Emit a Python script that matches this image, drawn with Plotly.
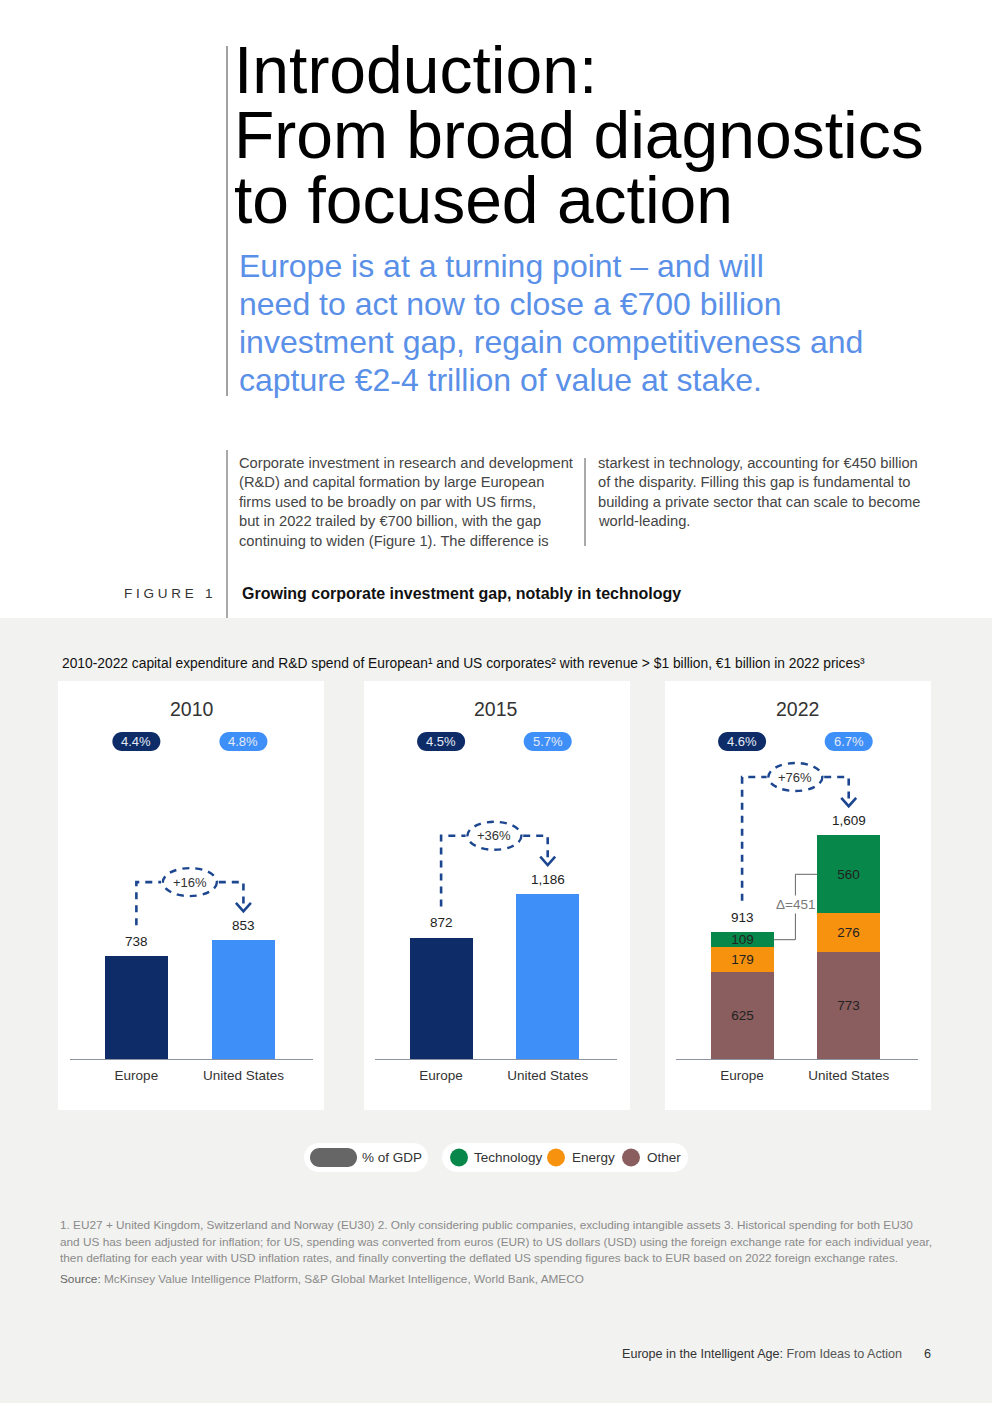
import plotly.graph_objects as go

# ---------------- data ----------------
years = ["2010", "2015", "2022"]
regions = ["Europe", "United States"]
europe_total = [738, 872, 913]
us_total = [853, 1186, 1609]
europe_gdp = ["4.4%", "4.5%", "4.6%"]
us_gdp = ["4.8%", "5.7%", "6.7%"]
seg_names = ["Other", "Energy", "Technology"]
seg_other_2022 = [625, 773]
seg_energy_2022 = [179, 276]
seg_tech_2022 = [109, 560]

title_lines = ["Introduction:", "From broad diagnostics", "to focused action"]
subtitle_lines = [
    "Europe is at a turning point \u2013 and will",
    "need to act now to close a \u20ac700 billion",
    "investment gap, regain competitiveness and",
    "capture \u20ac2-4 trillion of value at stake.",
]
body_col1 = [
    "Corporate investment in research and development",
    "(R&D) and capital formation by large European",
    "firms used to be broadly on par with US firms,",
    "but in 2022 trailed by \u20ac700 billion, with the gap",
    "continuing to widen (Figure 1). The difference is",
]
body_col2 = [
    "starkest in technology, accounting for \u20ac450 billion",
    "of the disparity. Filling this gap is fundamental to",
    "building a private sector that can scale to become",
    "world-leading.",
]
fig_label = "FIGURE 1"
fig_title = "Growing corporate investment gap, notably in technology"
chart_subtitle = ("2010-2022 capital expenditure and R&D spend of European\u00b9 and US corporates\u00b2 "
                  "with revenue > $1 billion, \u20ac1 billion in 2022 prices\u00b3")
footnotes = [
    "1. EU27 + United Kingdom, Switzerland and Norway (EU30) 2. Only considering public companies, excluding intangible assets 3. Historical spending for both EU30",
    "and US has been adjusted for inflation; for US, spending was converted from euros (EUR) to US dollars (USD) using the foreign exchange rate for each individual year,",
    "then deflating for each year with USD inflation rates, and finally converting the deflated US spending figures back to EUR based on 2022 foreign exchange rates.",
]
source_text = "McKinsey Value Intelligence Platform, S&P Global Market Intelligence, World Bank, AMECO"
footer_a = "Europe in the Intelligent Age:"
footer_b = "From Ideas to Action"
page_no = "6"

# ---------------- style ----------------
W, H = 992, 1403
FONT = "Liberation Sans, Arial, Helvetica, sans-serif"
NAVY = "#0d2c68"
BLUE = "#3f8ff8"
SEG_COLORS = {"Other": "#8a5d5e", "Energy": "#f7920f", "Technology": "#08874a"}
CONN = "#1d4690"
GREY_BG = "#f2f2f0"
DASH = "7px,6px"


def px(x):
    return x / W


def py(y):
    return 1 - y / H


def pill_path(w, h):
    r = h / 2.0
    hw = w / 2.0
    k = 0.5523 * r
    a = hw - r
    return (f"M {-a},{-r} L {a},{-r} C {a + k},{-r} {hw},{-k} {hw},0 "
            f"C {hw},{k} {a + k},{r} {a},{r} L {-a},{r} "
            f"C {-a - k},{r} {-hw},{k} {-hw},0 C {-hw},{-k} {-a - k},{-r} {-a},{-r} Z")


fig = go.Figure()
shapes = []
ann = []


def text(x, y, s, size, color="#222", anchor="left", family=FONT, **kw):
    ann.append(dict(x=px(x), y=py(y), xref="paper", yref="paper", text=s, showarrow=False,
                    xanchor=anchor, yanchor="middle", font=dict(size=size, color=color, family=family), **kw))


# page background pieces
shapes.append(dict(type="rect", xref="paper", yref="paper", x0=0, x1=1, y0=0, y1=py(618),
                   fillcolor=GREY_BG, line=dict(width=0), layer="below"))
panel_px = [(58, 324), (364, 630), (665, 931)]
for (a, b) in panel_px:
    shapes.append(dict(type="rect", xref="paper", yref="paper", x0=px(a), x1=px(b), y0=py(1110), y1=py(681),
                       fillcolor="white", line=dict(width=0), layer="below"))

# vertical rules
shapes.append(dict(type="line", xref="paper", yref="paper", x0=px(227), x1=px(227), y0=py(46), y1=py(396),
                   line=dict(color="#444", width=1)))
shapes.append(dict(type="line", xref="paper", yref="paper", x0=px(227), x1=px(227), y0=py(450), y1=py(618),
                   line=dict(color="#555", width=1)))
shapes.append(dict(type="line", xref="paper", yref="paper", x0=px(585), x1=px(585), y0=py(458), y1=py(546),
                   line=dict(color="#555", width=1)))

# title + subtitle
for i, s in enumerate(title_lines):
    base = 93 + 65 * i
    text(232, base - 0.35 * 66, s, 66, "#000")
for i, s in enumerate(subtitle_lines):
    base = 277 + 38 * i
    text(237, base - 0.35 * 32, s, 32, "#5a90e8")
for i, s in enumerate(body_col1):
    text(237, 463 + 19.4 * i, s, 14.7, "#454545")
for i, s in enumerate(body_col2):
    text(596, 463 + 19.4 * i, s, 14.7, "#454545")
text(215, 593, "\u00a0".join(list(fig_label.replace(" ", ""))[:-1]) + "\u00a0\u00a0\u00a0" + fig_label[-1],
     13.5, "#333", anchor="right")
text(240, 593, "<b>" + fig_title + "</b>", 16, "#111")
text(60, 663, chart_subtitle, 13.8, "#111")

# ---------------- axes ----------------
YMAX = 2720
ydom = [py(1059), py(681)]
xdoms = [(70, 313), (375, 617), (676, 918)]
XR = [-0.62, 1.65]
BW = 0.59
for i, (a, b) in enumerate(xdoms):
    sfx = "" if i == 0 else str(i + 1)
    fig.layout["xaxis" + sfx] = dict(domain=[px(a), px(b)], range=XR, showgrid=False, zeroline=False,
                                     showline=True, linecolor="#8d93a3", linewidth=1,
                                     tickvals=[0, 1], ticktext=regions, ticks="", ticklabelstandoff=4,
                                     tickfont=dict(size=13.5, color="#333", family=FONT),
                                     anchor="y" + sfx, fixedrange=True)
    fig.layout["yaxis" + sfx] = dict(domain=ydom, range=[0, YMAX], visible=False, anchor="x" + sfx,
                                     fixedrange=True)

# bars 2010, 2015
for i in range(2):
    sfx = "" if i == 0 else str(i + 1)
    fig.add_trace(go.Bar(x=[0, 1], y=[europe_total[i], us_total[i]], width=BW,
                         marker=dict(color=[NAVY, BLUE], line=dict(width=0)),
                         xaxis="x" + sfx, yaxis="y" + sfx, showlegend=False, hoverinfo="skip"))

# stacked bars 2022
for name, vals in zip(seg_names, [seg_other_2022, seg_energy_2022, seg_tech_2022]):
    fig.add_trace(go.Bar(x=[0, 1], y=vals, width=BW, name=name,
                         marker=dict(color=SEG_COLORS[name], line=dict(width=0)),
                         text=[f"{v:,}" for v in vals], textposition="inside", insidetextanchor="middle",
                         textangle=0, constraintext="none",
                         textfont=dict(size=13.5, color="#222", family=FONT),
                         xaxis="x3", yaxis="y3", showlegend=False, hoverinfo="skip"))

LEVEL_OFF = 420
START_OFF = 225
TIP_OFF = 210
ARROW_H = 60
ELL_HALF = 0.27
for i in range(3):
    sfx = "" if i == 0 else str(i + 1)
    xr, yr = "x" + sfx, "y" + sfx
    eu, us = europe_total[i], us_total[i]
    level = us + LEVEL_OFF
    tip = us + TIP_OFF
    # year title
    ann.append(dict(x=0.5, y=py(709), xref=xr + " domain", yref="paper", text=years[i], showarrow=False,
                    xanchor="center", yanchor="middle", font=dict(size=19.5, color="#333", family=FONT)))
    # GDP pills
    for cat, lab, col in [(0, europe_gdp[i], NAVY), (1, us_gdp[i], BLUE)]:
        shapes.append(dict(type="path", xref=xr, yref="paper", xsizemode="pixel", ysizemode="pixel",
                           xanchor=cat, yanchor=py(741.5), path=pill_path(48, 19),
                           fillcolor=col, line=dict(width=0)))
        ann.append(dict(x=cat, y=py(741.5), xref=xr, yref="paper", text=lab, showarrow=False,
                        xanchor="center", yanchor="middle", font=dict(size=13, color="#e4eaf6", family=FONT)))
    # value labels
    for cat, v in [(0, eu), (1, us)]:
        ann.append(dict(x=cat, y=v, xref=xr, yref=yr, text=f"{v:,}", showarrow=False, yshift=15,
                        xanchor="center", yanchor="middle", font=dict(size=13.5, color="#222", family=FONT)))
    # dashed connector
    fig.add_trace(go.Scatter(x=[0, 0, 0.5 - ELL_HALF, None, 0.5 + ELL_HALF, 1, 1],
                             y=[eu + START_OFF, level, level, None, level, level, tip + 25],
                             mode="lines", line=dict(color=CONN, width=2.6, dash=DASH),
                             xaxis=xr, yaxis=yr, showlegend=False, hoverinfo="skip", connectgaps=False))
    fig.add_trace(go.Scatter(x=[0.93, 1, 1.07], y=[tip + ARROW_H, tip, tip + ARROW_H], mode="lines",
                             line=dict(color=CONN, width=2.6), xaxis=xr, yaxis=yr,
                             showlegend=False, hoverinfo="skip"))
    shapes.append(dict(type="circle", xref=xr, yref=yr, xsizemode="pixel", ysizemode="pixel",
                       xanchor=0.5, yanchor=level, x0=-27, x1=27, y0=-14, y1=14,
                       line=dict(color=CONN, width=2.4, dash=DASH), fillcolor="rgba(0,0,0,0)"))
    growth = round((us / eu - 1) * 100)
    ann.append(dict(x=0.5, y=level, xref=xr, yref=yr, text=f"+{growth}%", showarrow=False,
                    xanchor="center", yanchor="middle", font=dict(size=13, color="#333", family=FONT)))

# delta bracket 2022 (technology)
eu_tech_mid = seg_other_2022[0] + seg_energy_2022[0] + seg_tech_2022[0] / 2
us_tech_mid = seg_other_2022[1] + seg_energy_2022[1] + seg_tech_2022[1] / 2
fig.add_trace(go.Scatter(x=[BW / 2, 0.5, 0.5, 1 - BW / 2], y=[eu_tech_mid, eu_tech_mid, us_tech_mid, us_tech_mid],
                         mode="lines", line=dict(color="#666", width=1), xaxis="x3", yaxis="y3",
                         showlegend=False, hoverinfo="skip"))
delta = seg_tech_2022[1] - seg_tech_2022[0]
ann.append(dict(x=0.5, y=(eu_tech_mid + us_tech_mid) / 2 + 20, xref="x3", yref="y3", text=f"\u0394={delta}",
                showarrow=False, xanchor="center", yanchor="middle", bgcolor="white", borderpad=1,
                font=dict(size=13.5, color="#7a7a7a", family=FONT)))

# ---------------- legend ----------------
for (a, b) in [(304, 428), (442, 688)]:
    shapes.append(dict(type="path", xref="paper", yref="paper", xsizemode="pixel", ysizemode="pixel",
                       xanchor=px((a + b) / 2), yanchor=py(1157.5), path=pill_path(b - a, 29),
                       fillcolor="white", line=dict(width=0)))
shapes.append(dict(type="path", xref="paper", yref="paper", xsizemode="pixel", ysizemode="pixel",
                   xanchor=px(333.5), yanchor=py(1157.5), path=pill_path(47, 19),
                   fillcolor="#666", line=dict(width=0)))
text(360, 1157.5, "% of GDP", 13.5, "#333")
for cx, tx, name in [(459, 472, "Technology"), (556, 570, "Energy"), (631, 645, "Other")]:
    shapes.append(dict(type="circle", xref="paper", yref="paper", xsizemode="pixel", ysizemode="pixel",
                       xanchor=px(cx), yanchor=py(1157.5), x0=-9, x1=9, y0=-9, y1=9,
                       fillcolor=SEG_COLORS[name], line=dict(width=0)))
    text(tx, 1157.5, name, 13.5, "#333")

# ---------------- footnotes & footer ----------------
for i, s in enumerate(footnotes):
    text(58, 1225 + 16.5 * i, s, 11.8, "#8a8a8a")
text(58, 1279, "<span style='color:#666'>Source:</span> " + source_text, 11.8, "#8a8a8a")
text(620, 1354, footer_a + " <span style='color:#555'>" + footer_b + "</span>", 12.6, "#333")
text(933, 1354, page_no, 12.6, "#333", anchor="right")

fig.update_layout(width=W, height=H, margin=dict(l=0, r=0, t=0, b=0), paper_bgcolor="white",
                  plot_bgcolor="rgba(0,0,0,0)", barmode="stack", showlegend=False,
                  shapes=shapes, annotations=ann, bargap=0)
fig.write_html("out.html", config={"displayModeBar": False},
               post_script="document.body.style.margin='0';document.body.style.overflow='hidden';")
